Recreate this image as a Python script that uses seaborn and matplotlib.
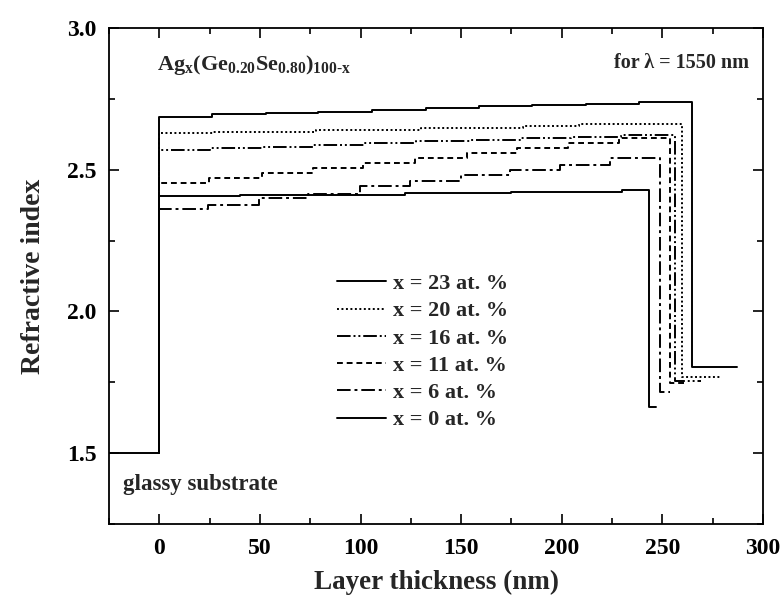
import numpy as np
import pandas as pd
import matplotlib
matplotlib.use("Agg")
import matplotlib.pyplot as plt
import seaborn as sns
from matplotlib.ticker import MultipleLocator

# ---------------- data ----------------
labels = ["x = 23 at. %", "x = 20 at. %", "x = 16 at. %",
          "x = 11 at. %", "x = 6 at. %", "x = 0 at. %"]

# x = 23
edges_23 = [0, 26, 53, 79, 105.5, 132.5, 159, 185, 212, 238.5]
n_23 = [2.687, 2.696, 2.699, 2.705, 2.711, 2.717, 2.724, 2.728, 2.731, 2.740]
# x = 20
edges_20 = [0, 26.7, 78, 130, 180.6, 208.4]
n_20 = [2.629, 2.633, 2.640, 2.646, 2.654, 2.660]
# x = 16
edges_16 = [0, 25.3, 50.8, 76.5, 102.2, 127.8, 154.3, 179.1, 204.8, 229.6]
n_16 = [2.569, 2.576, 2.580, 2.587, 2.595, 2.601, 2.606, 2.613, 2.616, 2.621]
# x = 11
edges_11 = [0, 24.8, 50.8, 76.2, 101.3, 127, 152.7, 177.5, 203.1, 228.5]
n_11 = [2.452, 2.470, 2.490, 2.505, 2.525, 2.540, 2.558, 2.576, 2.595, 2.613]
# x = 6
edges_6 = [0, 24.3, 49.7, 74, 99.7, 124.5, 150, 174.2, 199, 223.8]
n_6 = [2.360, 2.376, 2.399, 2.413, 2.441, 2.460, 2.481, 2.499, 2.517, 2.540]
# x = 0
edges_0 = [0, 40, 122, 175, 230]
n_0 = [2.407, 2.412, 2.417, 2.420, 2.429]

# film end, index after the film, end of the tail
film_end = [264.7, 259.6, 256.1, 253.9, 248.8, 243.4]
n_after = [1.805, 1.770, 1.756, 1.749, 1.717, 1.664]
tail_end = [287, 278.5, 269.4, 262, 254, 246.6]

substrate_x = [-25, 0]
substrate_n = [1.5, 1.5]

# ---------------- styling ----------------
sns.set_theme(style="ticks")
plt.rcParams["font.family"] = ["Liberation Serif", "DejaVu Serif"]
plt.rcParams["font.weight"] = "bold"
plt.rcParams["mathtext.fontset"] = "custom"
plt.rcParams["mathtext.rm"] = "Liberation Serif:bold"
plt.rcParams["mathtext.bf"] = "Liberation Serif:bold"
plt.rcParams["mathtext.it"] = "Liberation Serif:bold"

styles = ["-", (0, (1, 1.3)), (0, (7, 1.5, 1, 1.5, 1, 1.5)),
          (0, (3, 2)), (0, (7, 2, 1.5, 2)), "-"]

fig = plt.figure(figsize=(7.83, 5.99), dpi=100)
ax = fig.add_axes([0.1392, 0.1252, 0.8353, 0.8281])

all_edges = [edges_23, edges_20, edges_16, edges_11, edges_6, edges_0]
all_n = [n_23, n_20, n_16, n_11, n_6, n_0]

lw = 1.4
handles = []
for i in range(len(labels)):
    xs = [0] + list(all_edges[i]) + [film_end[i], tail_end[i]]
    ys = [substrate_n[-1]] + list(all_n[i]) + [n_after[i], n_after[i]]
    df = pd.DataFrame({"thickness": xs, "n": ys})
    sns.lineplot(data=df, x="thickness", y="n", ax=ax, color="black",
                 linestyle=styles[i], linewidth=lw, drawstyle="steps-post",
                 sort=False, estimator=None, label=labels[i], legend=False)
    handles.append(ax.lines[-1])

df_sub = pd.DataFrame({"thickness": substrate_x, "n": substrate_n})
sns.lineplot(data=df_sub, x="thickness", y="n", ax=ax, color="black",
             linewidth=lw, sort=False, estimator=None, legend=False)

ax.set_xlim(-25, 300)
ax.set_ylim(1.25, 3.0)
ax.xaxis.set_major_locator(MultipleLocator(50))
ax.xaxis.set_minor_locator(MultipleLocator(25))
ax.yaxis.set_major_locator(MultipleLocator(0.5))
ax.yaxis.set_minor_locator(MultipleLocator(0.25))
ax.tick_params(which="both", direction="in", top=True, right=True,
               labelsize=17, width=1.2, colors="black")
ax.tick_params(which="major", length=7.5)
ax.tick_params(which="minor", length=4)
ax.tick_params(axis="x", which="both", pad=10)
ax.tick_params(axis="y", which="both", pad=9)
for s in ax.spines.values():
    s.set_linewidth(1.3)
    s.set_color("black")
for t in ax.get_xticklabels() + ax.get_yticklabels():
    t.set_fontweight("bold")

ax.set_xlabel("Layer thickness (nm)", fontsize=19.5, fontweight="bold", labelpad=8)
ax.set_ylabel("Refractive index", fontsize=20, fontweight="bold", labelpad=15)

ax.text(0.073, 0.915, r"$\mathbf{Ag_{x}(Ge_{0.20}Se_{0.80})_{100\text{-}x}}$",
        transform=ax.transAxes, fontsize=16, ha="left", va="baseline")
ax.text(0.979, 0.93, "for λ = 1550 nm", transform=ax.transAxes,
        fontsize=14.5, fontweight="bold", ha="right", va="center")
ax.text(0.021, 0.079, "glassy substrate", transform=ax.transAxes,
        fontsize=16.5, fontweight="bold", ha="left", va="center")

leg = ax.legend(handles=handles, labels=labels, loc="upper left",
                bbox_to_anchor=(0.318, 0.545), frameon=False,
                fontsize=16, handlelength=2.2, handletextpad=0.3,
                labelspacing=0.3)
for t in leg.get_texts():
    t.set_fontweight("bold")

fig.savefig("out.png", dpi=100, facecolor="white")
